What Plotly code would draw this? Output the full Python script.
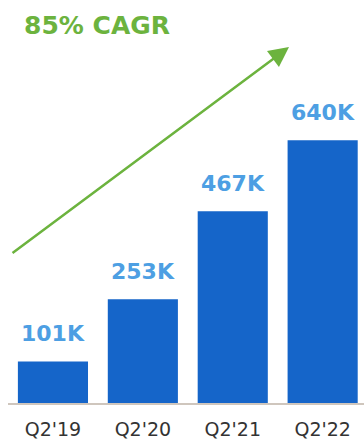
import plotly.graph_objects as go

# Quarterly figures (thousands)
quarters = ["Q2'19", "Q2'20", "Q2'21", "Q2'22"]
values_k = [101, 253, 467, 640]
value_labels = ["101K", "253K", "467K", "640K"]
headline = "85% CAGR"

BAR_BLUE = "#1565c9"
LABEL_BLUE = "#4d9fe3"
GREEN = "#6cb33e"

fig = go.Figure()
fig.add_trace(go.Bar(
    x=quarters,
    y=values_k,
    marker=dict(color=BAR_BLUE, line=dict(width=0)),
    width=0.78,
    hoverinfo="skip",
))

# Value labels above each bar
for q, v, lab in zip(quarters, values_k, value_labels):
    fig.add_annotation(
        x=q, y=v, text=f"<b>{lab}</b>", showarrow=False,
        xanchor="center", yanchor="middle", yshift=28,
        font=dict(family="DejaVu Sans", size=22, color=LABEL_BLUE),
    )

# Growth headline
fig.add_annotation(
    xref="paper", yref="paper", x=0.04, y=0.937,
    text=f"<b>{headline}</b>", showarrow=False,
    xanchor="left", yanchor="middle",
    font=dict(family="DejaVu Sans", size=25, color=GREEN),
)

# Upward trend arrow
fig.add_annotation(
    x=2.626, y=867, xref="x", yref="y",
    ax=-278, ay=207, axref="pixel", ayref="pixel",
    showarrow=True, arrowhead=2, arrowsize=1.6, arrowwidth=2.5,
    arrowcolor=GREEN, text="",
)

fig.update_layout(
    width=364, height=441,
    margin=dict(l=8, r=0, t=0, b=38),
    paper_bgcolor="white", plot_bgcolor="white",
    showlegend=False,
    xaxis=dict(
        type="category", range=[-0.5, 3.46], automargin=False,
        showgrid=False, zeroline=False,
        showline=True, linecolor="#cfc6bd", linewidth=2,
        ticks="", ticklabelstandoff=8,
        tickfont=dict(family="DejaVu Sans", size=19, color="#333333"),
    ),
    yaxis=dict(
        range=[0, 981.7], visible=False, showgrid=False, zeroline=False,
        automargin=False,
    ),
)

fig.write_html("out.html")
